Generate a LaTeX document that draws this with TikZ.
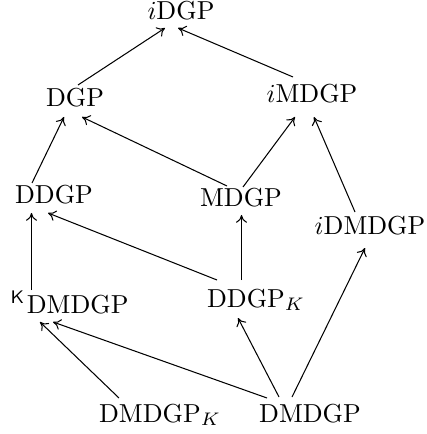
\documentclass[tikz,border=0pt]{standalone}
\usetikzlibrary{arrows.meta}
\begin{document}
\begin{tikzpicture}[x=0.3846pt,y=-0.3846pt,
  lbl/.style={anchor=base,inner sep=0pt},
  arr/.style={-{To[length=3pt,width=4.2pt]},line width=0.4pt}]
\useasboundingbox (0,0) rectangle (426,434);
\node[lbl] (idgp) at (181,20) {$i$DGP};
\node[lbl] (dgp) at (75,107) {DGP};
\node[lbl] (imdgp) at (312,103) {$i$MDGP};
\node[lbl] (ddgp) at (54,203) {DDGP};
\node[lbl] (mdgp) at (241,207) {MDGP};
\node[lbl] (idmdgp) at (370,234) {$i$DMDGP};
\node[lbl] (kdmdgp) at (69.5,313) {${}^{\mathsf{K}}\kern0.6pt$DMDGP};
\node[lbl] (ddgpk) at (256,307) {DDGP$_K$};
\node[lbl] (dmdgpk) at (160,422) {DMDGP$_K$};
\node[lbl] (dmdgp) at (310,422) {DMDGP};
% connector end points
\coordinate (dgp-up) at (78,85);
\coordinate (idgp-l) at (165,28);
\coordinate (imdgp-up) at (293,77);
\coordinate (idgp-r) at (178,28);
\coordinate (ddgp-up) at (32,183);
\coordinate (dgp-l) at (64,117);
\coordinate (mdgp-ul) at (227,186);
\coordinate (dgp-r) at (82,117);
\coordinate (mdgp-ur) at (243,187);
\coordinate (imdgp-l) at (295,117);
\coordinate (idmdgp-up) at (355,212);
\coordinate (imdgp-r) at (314,117);
\coordinate (kdmdgp-up) at (31.5,290);
\coordinate (ddgp-l) at (31.5,213);
\coordinate (ddgpk-ul) at (217,280);
\coordinate (ddgp-r) at (48,213);
\coordinate (ddgpk-up) at (241.5,280);
\coordinate (mdgp-dn) at (241.5,215);
\coordinate (dmdgpk-up) at (119,398);
\coordinate (kdmdgp-l) at (40,322);
\coordinate (dmdgp-u1) at (267,398);
\coordinate (kdmdgp-r) at (53,322);
\coordinate (dmdgp-u2) at (279,397);
\coordinate (ddgpk-dn) at (238,318);
\coordinate (dmdgp-u3) at (292,397);
\coordinate (idmdgp-dn) at (365,248);
\draw[arr] (dgp-up) -- (idgp-l);
\draw[arr] (imdgp-up) -- (idgp-r);
\draw[arr] (ddgp-up) -- (dgp-l);
\draw[arr] (mdgp-ul) -- (dgp-r);
\draw[arr] (mdgp-ur) -- (imdgp-l);
\draw[arr] (idmdgp-up) -- (imdgp-r);
\draw[arr] (kdmdgp-up) -- (ddgp-l);
\draw[arr] (ddgpk-ul) -- (ddgp-r);
\draw[arr] (ddgpk-up) -- (mdgp-dn);
\draw[arr] (dmdgpk-up) -- (kdmdgp-l);
\draw[arr] (dmdgp-u1) -- (kdmdgp-r);
\draw[arr] (dmdgp-u2) -- (ddgpk-dn);
\draw[arr] (dmdgp-u3) -- (idmdgp-dn);
\end{tikzpicture}
\end{document}
